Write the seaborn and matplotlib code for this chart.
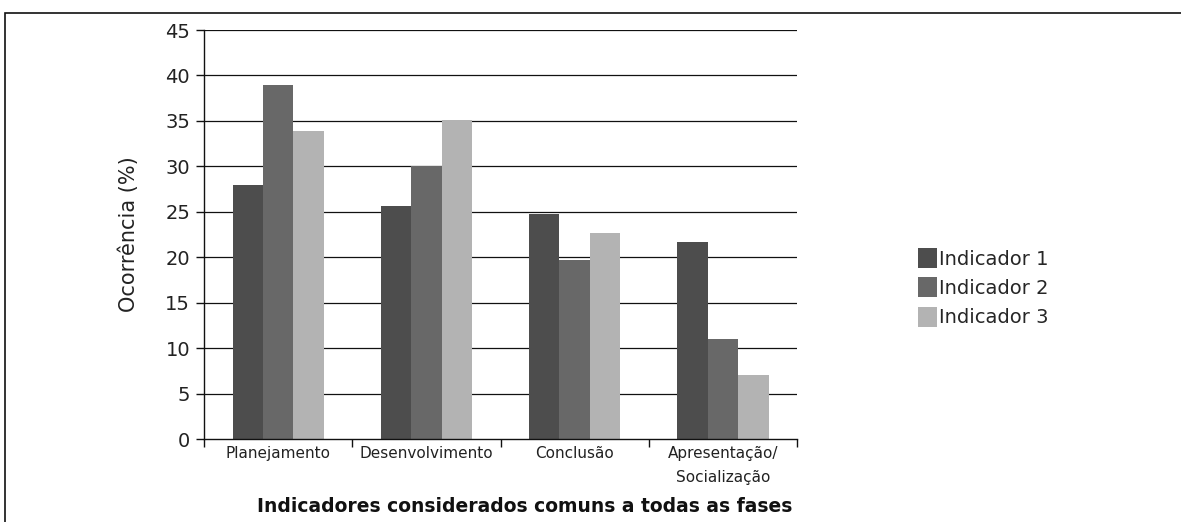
import matplotlib
matplotlib.use("Agg")
import matplotlib.pyplot as plt
from matplotlib.patches import Rectangle
from matplotlib.ticker import FixedLocator, NullFormatter
import seaborn as sns
import pandas as pd

fases = ["Planejamento", "Desenvolvimento", "Conclusão", "Apresentação/\nSocialização"]
indicadores = ["Indicador 1", "Indicador 2", "Indicador 3"]
indicador_1 = [28.0, 25.6, 24.8, 21.7]
indicador_2 = [38.9, 30.0, 19.7, 11.0]
indicador_3 = [33.9, 35.1, 22.7, 7.0]
y_ticks = [0, 5, 10, 15, 20, 25, 30, 35, 40, 45]

df = pd.DataFrame({
    "Fase": fases * 3,
    "Indicador": [indicadores[0]] * 4 + [indicadores[1]] * 4 + [indicadores[2]] * 4,
    "Ocorrencia": indicador_1 + indicador_2 + indicador_3,
})

sns.set_theme(style="white")
plt.rcParams["font.family"] = ["DejaVu Sans"]

fig = plt.figure(figsize=(11.81, 5.22), dpi=100)
ax = fig.add_axes([0.1727, 0.159, 0.5022, 0.7835])

palette = ["#4d4d4d", "#686868", "#b3b3b3"]
sns.barplot(data=df, x="Fase", y="Ocorrencia", hue="Indicador", palette=palette,
            width=0.615, ax=ax, saturation=1, edgecolor="none", legend=True)

ax.set_ylim(0, 45)
ax.set_xlim(-0.5, 3.5)
ax.set_yticks(y_ticks)
ax.set_yticklabels([str(v) for v in y_ticks], fontsize=14, color="#222222")
for v in y_ticks[1:]:
    ax.axhline(v, color="#111111", linewidth=0.9, zorder=0)

# category ticks sit on the group boundaries
ax.set_xticks(range(len(fases)))
ax.set_xticklabels(fases, fontsize=11, color="#222222", linespacing=1.75, va="top")
ax.tick_params(axis="x", which="major", length=0, pad=5)
ax.xaxis.set_minor_locator(FixedLocator([-0.5, 0.5, 1.5, 2.5, 3.5]))
ax.xaxis.set_minor_formatter(NullFormatter())
ax.tick_params(axis="x", which="minor", length=6, width=1, color="#111111", direction="out", bottom=True)
ax.tick_params(axis="y", length=6, width=1, color="#111111", direction="out", left=True, pad=4)

for s in ["top", "right"]:
    ax.spines[s].set_visible(False)
for s in ["left", "bottom"]:
    ax.spines[s].set_color("#111111")
    ax.spines[s].set_linewidth(1)

ax.set_ylabel("Ocorrência (%)", fontsize=15, color="#222222", labelpad=19)
ax.set_xlabel("Indicadores considerados comuns a todas as fases", fontsize=13.5,
              fontweight="bold", color="#111111")
ax.xaxis.set_label_coords(0.54, -0.143)

handles, labels = ax.get_legend_handles_labels()
ax.legend(handles, labels, loc="center left", bbox_to_anchor=(1.19, 0.37),
          frameon=False, fontsize=14, handlelength=1.0, handleheight=1.2,
          handletextpad=0.1, labelspacing=0.45, borderaxespad=0)

# outer frame of the figure
fig.patches.append(Rectangle((5 / 1181, -0.1), 1.1, 1 - 12.5 / 522 + 0.1,
                             transform=fig.transFigure, fill=False,
                             edgecolor="#111111", linewidth=1.2))

fig.savefig("out.png", dpi=100)
